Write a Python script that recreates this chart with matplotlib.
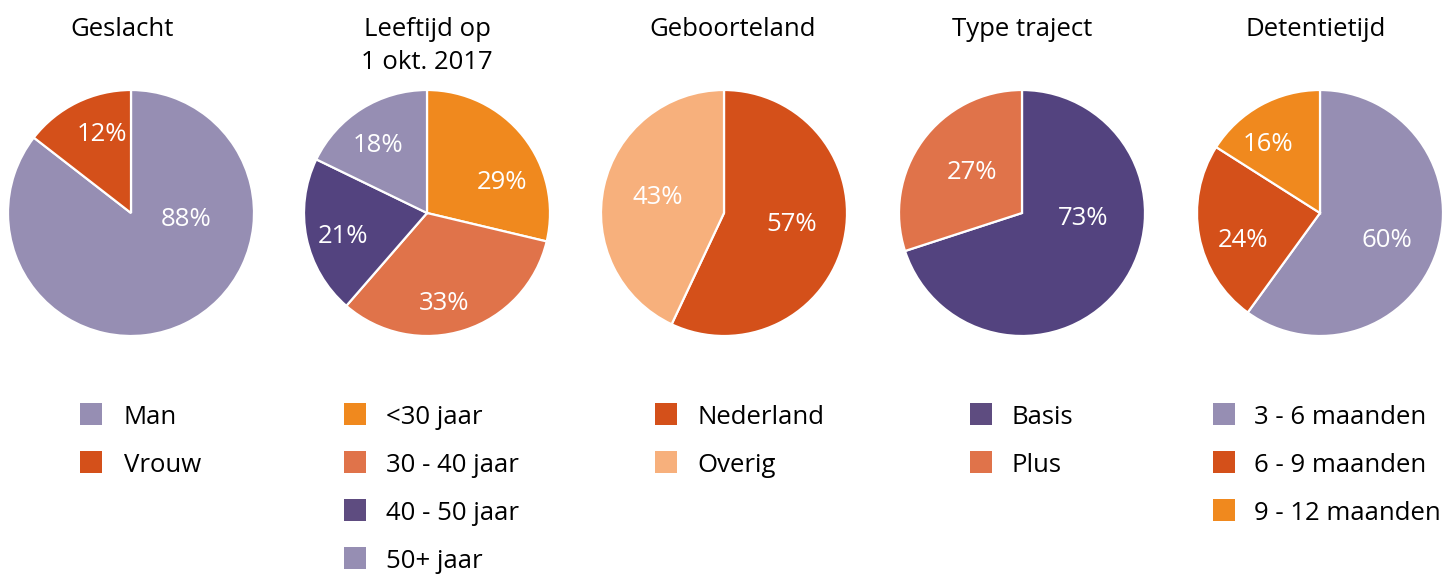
import matplotlib
matplotlib.use("Agg")
from matplotlib import pyplot
from matplotlib.patches import Rectangle

pyplot.rcParams['font.family'] = ['Open Sans', 'DejaVu Sans']

# colours
LAVENDER = "#968EB3"
RED = "#D4501A"
ORANGE = "#F0891E"
SALMON = "#E0734A"
PURPLE = "#53437F"
PEACH = "#F7B07C"

# data
titles = ["Geslacht", "Leeftijd op\n1 okt. 2017", "Geboorteland",
          "Type traject", "Detentietijd"]

# wedge sizes as drawn, and the percentages printed on them
geslacht_labels = ["Man", "Vrouw"]
geslacht_values = [85.5, 14.5]
geslacht_pct = [88, 12]

leeftijd_labels = ["<30 jaar", "30 - 40 jaar", "40 - 50 jaar", "50+ jaar"]
leeftijd_values = [29, 33, 21, 18]
leeftijd_pct = [29, 33, 21, 18]

geboorteland_labels = ["Nederland", "Overig"]
geboorteland_values = [57, 43]
geboorteland_pct = [57, 43]

traject_labels = ["Basis", "Plus"]
traject_values = [70, 30]
traject_pct = [73, 27]

detentie_labels = ["3 - 6 maanden", "6 - 9 maanden", "9 - 12 maanden"]
detentie_values = [60, 24, 16]
detentie_pct = [60, 24, 16]

# styles / layout (pixel units, y measured downward from top)
colours = [[LAVENDER, RED],
           [ORANGE, SALMON, PURPLE, LAVENDER],
           [RED, PEACH],
           [PURPLE, SALMON],
           [LAVENDER, RED, ORANGE]]
legend_colours = [[LAVENDER, RED],
                  [ORANGE, SALMON, "#5E4C80", LAVENDER],
                  [RED, PEACH],
                  ["#5E4C80", SALMON],
                  [LAVENDER, RED, ORANGE]]

# label offsets in units of radius (dx right, dy up), per slice
label_offsets = [[(0.45, -0.03), (-0.24, 0.66)],
                 [(0.61, 0.27), (0.14, -0.71), (-0.68, -0.17), (-0.40, 0.57)],
                 [(0.55, -0.07), (-0.54, 0.15)],
                 [(0.50, -0.02), (-0.41, 0.35)],
                 [(0.54, -0.20), (-0.63, -0.20), (-0.42, 0.58)]]

W, H = 1456, 574
centers_x = [131, 427, 724, 1022, 1320]
center_y = 213
radius = 123
title_x = [122, 427, 733, 1022, 1316]
title_baseline = 36
title_step = 33
legend_square_x = [80, 344, 655, 970, 1213]
legend_text_x = [124, 386, 697, 1012, 1254]
legend_y0 = 414
legend_step = 48
square = 22
FS = 18.5

datasets = [(geslacht_labels, geslacht_values, geslacht_pct),
            (leeftijd_labels, leeftijd_values, leeftijd_pct),
            (geboorteland_labels, geboorteland_values, geboorteland_pct),
            (traject_labels, traject_values, traject_pct),
            (detentie_labels, detentie_values, detentie_pct)]

fig = pyplot.figure(figsize=(W / 100, H / 100), dpi=100)
ax = fig.add_axes([0, 0, 1, 1])


def up(y):
	return H - y


for i, (labels, values, pcts) in enumerate(datasets):
	cx, cy = centers_x[i], up(center_y)
	ax.pie(values, colors=colours[i], startangle=90, counterclock=False,
		   center=(cx, cy), radius=radius,
		   wedgeprops=dict(edgecolor="white", linewidth=1.6))
	for p, (dx, dy) in zip(pcts, label_offsets[i]):
		ax.text(cx + dx * radius, cy + dy * radius, "%d%%" % p,
				color="white", fontsize=FS, ha="center", va="center_baseline")

	for k, line in enumerate(titles[i].split("\n")):
		ax.text(title_x[i], up(title_baseline + k * title_step), line,
				fontsize=FS, ha="center", va="baseline")

	for j, lab in enumerate(labels):
		ly = legend_y0 + j * legend_step
		ax.add_patch(Rectangle((legend_square_x[i], up(ly + square / 2)), square, square,
							   facecolor=legend_colours[i][j], edgecolor="none"))
		ax.text(legend_text_x[i], up(ly + square / 2 - 1), lab, fontsize=FS,
				ha="left", va="baseline")

ax.set_xlim(0, W)
ax.set_ylim(0, H)
ax.set_aspect("equal")
ax.axis("off")

fig.savefig("out.png", dpi=100)
